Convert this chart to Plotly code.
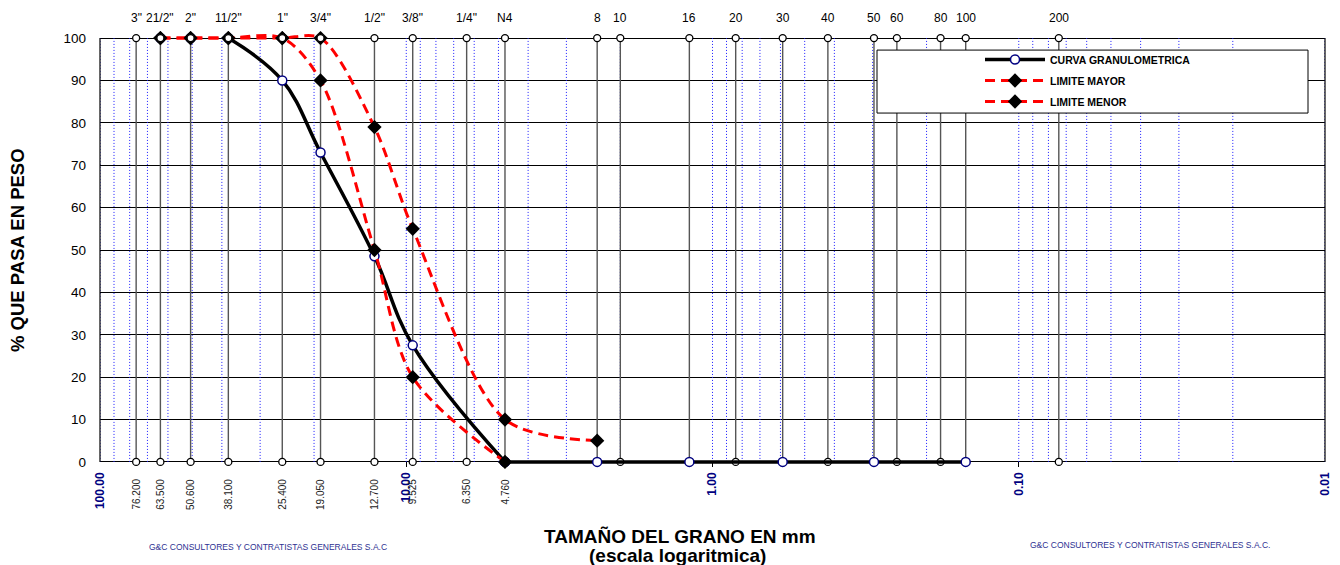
import math
import plotly.graph_objects as go

# ---------------- data ----------------
sieve_names = ['3"', '21/2"', '2"', '11/2"', '1"', '3/4"', '1/2"', '3/8"', '1/4"', 'N4',
               '8', '10', '16', '20', '30', '40', '50', '60', '80', '100', '200']
sieve_mm = [76.2, 63.5, 50.6, 38.1, 25.4, 19.05, 12.7, 9.525, 6.35, 4.76,
            2.38, 2.0, 1.19, 0.84, 0.59, 0.42, 0.297, 0.25, 0.18, 0.149, 0.074]
n_mm_labels = 10  # sizes printed under the axis (3" .. N4)

gran_mm = [63.5, 50.6, 38.1, 25.4, 19.05, 12.7, 9.525, 4.76, 2.38, 1.19, 0.59, 0.297, 0.149]
gran_pct = [100, 100, 100, 90, 73, 48.5, 27.5, 0, 0, 0, 0, 0, 0]
gran_start = 2  # index of 38.1 mm: the drawn curve begins here
gran_split = 7  # index of 4.76 mm: smooth part up to here, straight afterwards

mayor_mm = [63.5, 50.6, 38.1, 25.4, 19.05, 12.7, 9.525, 4.76, 2.38]
mayor_pct = [100, 100, 100, 100, 100, 79, 55, 10, 5]

menor_mm = [63.5, 50.6, 38.1, 25.4, 19.05, 12.7, 9.525, 4.76]
menor_pct = [100, 100, 100, 100, 90, 50, 20, 0]

decades = [100, 10, 1, 0.1, 0.01]
decade_text = ['100.00', '10.00', '1.00', '0.10', '0.01']
y_ticks = list(range(0, 101, 10))

FONT = 'Arial, Liberation Sans, sans-serif'
NAVY = '#000080'

# page offset of the figure inside the html body (default 8px body margin)
OFF = 8
W, H = 1340 - 2 * OFF, 565 - OFF
PLOT_L, PLOT_R, PLOT_T, PLOT_B = 100, 1325, 33, 467   # page pixels of the plot area

# --------------- helpers --------------
def vlines(xs, y0, y1):
    gx, gy = [], []
    for v in xs:
        gx += [v, v, None]
        gy += [y0, y1, None]
    return gx, gy

def px_to_xpaper(p):
    return (p - PLOT_L) / (PLOT_R - PLOT_L)

def px_to_y(p):
    return (462 - p) / 4.24

grid_vals = [100] + [k * d for d in [10, 1, 0.1, 0.01] for k in range(1, 10)]

fig = go.Figure()

# blue dotted log grid
gx, gy = vlines(grid_vals, 0, 100)
fig.add_trace(go.Scatter(x=gx, y=gy, mode='lines', showlegend=False, hoverinfo='skip',
                         line=dict(color='#1a1aff', width=1, dash='1px,2px')))

# sieve vertical lines
sx, sy = vlines(sieve_mm, 0, 100)
fig.add_trace(go.Scatter(x=sx, y=sy, mode='lines', showlegend=False, hoverinfo='skip',
                         line=dict(color='#555555', width=1.4)))

sieve_marker = dict(symbol='circle', size=7, color='white', line=dict(color='black', width=1.3))
fig.add_trace(go.Scatter(x=sieve_mm, y=[0] * len(sieve_mm), mode='markers', showlegend=False,
                         hoverinfo='skip', marker=sieve_marker, cliponaxis=False))

# granulometric curve
gran_marker = dict(symbol='circle', size=9, color='white', line=dict(color=NAVY, width=1.5))
fig.add_trace(go.Scatter(x=gran_mm[:gran_start], y=gran_pct[:gran_start], mode='markers',
                         showlegend=False, legendgroup='g', marker=gran_marker, cliponaxis=False))
fig.add_trace(go.Scatter(x=gran_mm[gran_start:gran_split + 1], y=gran_pct[gran_start:gran_split + 1],
                         mode='lines+markers', name='<b>CURVA GRANULOMETRICA</b>',
                         legendgroup='g', line=dict(color='black', width=3.5, shape='spline', smoothing=1.1),
                         marker=gran_marker, cliponaxis=False))
fig.add_trace(go.Scatter(x=gran_mm[gran_split:], y=gran_pct[gran_split:],
                         mode='lines+markers', showlegend=False, legendgroup='g',
                         line=dict(color='black', width=3.5), marker=gran_marker, cliponaxis=False))

# limits
lim_marker = dict(symbol='diamond', size=11, color='black', line=dict(color='black', width=0))
fig.add_trace(go.Scatter(x=mayor_mm, y=mayor_pct, mode='lines+markers', name='<b>LIMITE MAYOR</b>',
                         legendgroup='a',
                         line=dict(color='#ff0000', width=3, dash='10px,6px', shape='spline', smoothing=0.85),
                         marker=lim_marker, cliponaxis=False))
fig.add_trace(go.Scatter(x=menor_mm, y=menor_pct, mode='lines+markers', name='<b>LIMITE MENOR</b>',
                         legendgroup='b',
                         line=dict(color='#ff0000', width=3, dash='10px,6px', shape='spline', smoothing=0.9),
                         marker=lim_marker, cliponaxis=False))

# sieve markers on top
fig.add_trace(go.Scatter(x=sieve_mm, y=[100] * len(sieve_mm), mode='markers', showlegend=False,
                         hoverinfo='skip', marker=sieve_marker, cliponaxis=False))

# --------------- annotations ----------
ann = []
for name, mm in zip(sieve_names, sieve_mm):
    ann.append(dict(x=math.log10(mm), y=100, xref='x', yref='y', text=name, showarrow=False,
                    yshift=20, yanchor='middle', font=dict(family=FONT, size=12, color='black')))
for mm in sieve_mm[:n_mm_labels]:
    ann.append(dict(x=math.log10(mm), y=0, xref='x', yref='y', text=f'{mm:.3f}', showarrow=False,
                    textangle=-90, yanchor='top', yshift=-15,
                    font=dict(family=FONT, size=10, color='#222222')))

ann.append(dict(x=0, y=50, xref='paper', yref='y', text='<b>% QUE PASA EN PESO</b>', showarrow=False,
                textangle=-90, xanchor='center', xshift=-83, font=dict(family=FONT, size=18.5, color='black')))
ann.append(dict(x=px_to_xpaper(680), y=0, xref='paper', yref='y', text='<b>TAMAÑO DEL GRANO EN mm</b>',
                xanchor='center', showarrow=False, yanchor='middle', yshift=-75,
                font=dict(family=FONT, size=19, color='black')))
ann.append(dict(x=px_to_xpaper(677), y=0, xref='paper', yref='y', text='<b>(escala logaritmica)</b>',
                xanchor='center', showarrow=False, yanchor='middle', yshift=-94,
                font=dict(family=FONT, size=19, color='black')))
ann.append(dict(x=px_to_xpaper(268), y=0, xref='paper', yref='y',
                text='G&C CONSULTORES Y CONTRATISTAS GENERALES S.A.C', xanchor='center',
                showarrow=False, yanchor='middle', yshift=-85, font=dict(family=FONT, size=8.5, color='#2e3192')))
ann.append(dict(x=px_to_xpaper(1150), y=0, xref='paper', yref='y',
                text='G&C CONSULTORES Y CONTRATISTAS GENERALES S.A.C.', xanchor='center',
                showarrow=False, yanchor='middle', yshift=-83, font=dict(family=FONT, size=8.5, color='#2e3192')))

# --------------- shapes ---------------
shapes = [
    dict(type='line', xref='paper', yref='y', x0=0, x1=0, y0=0, y1=100, line=dict(color='black', width=1.2), layer='above'),
    dict(type='line', xref='paper', yref='y', x0=1, x1=1, y0=0, y1=100, line=dict(color='black', width=1.2), layer='above'),
    dict(type='rect', xref='paper', yref='y', x0=px_to_xpaper(877), x1=px_to_xpaper(1308),
         y0=px_to_y(113), y1=px_to_y(50), fillcolor='white', line=dict(color='black', width=1), layer='above'),
]

fig.update_layout(
    width=W, height=H,
    margin=dict(l=PLOT_L - OFF, r=(W + OFF) - PLOT_R, t=PLOT_T - OFF, b=(H + OFF) - PLOT_B),
    paper_bgcolor='white', plot_bgcolor='white',
    font=dict(family=FONT, color='black'),
    annotations=ann, shapes=shapes,
    showlegend=True,
    legend=dict(x=px_to_xpaper(980), y=(PLOT_B - 45) / (PLOT_B - PLOT_T), xanchor='left', yanchor='top',
                bgcolor='rgba(0,0,0,0)', borderwidth=0, font=dict(family=FONT, size=10.5, color='black'),
                itemwidth=60, tracegroupgap=2, traceorder='grouped'),
)
fig.update_xaxes(type='log', range=[2, -2], tickvals=decades, ticktext=[f'<b>{t}</b>' for t in decade_text],
                 tickangle=-90, tickfont=dict(family=FONT, size=12, color=NAVY),
                 ticks='inside', ticklen=5, tickcolor='black', tickwidth=1,
                 ticklabelstandoff=2, showgrid=False, zeroline=False, showline=False, automargin=False)
fig.update_yaxes(range=[-1.2, 101.2], tickvals=y_ticks, tickfont=dict(family=FONT, size=13.5, color='black'),
                 showgrid=True, gridcolor='black', gridwidth=1, zeroline=False, showline=False,
                 ticks='', ticklabelstandoff=13, automargin=False)

fig.write_html('out.html')
